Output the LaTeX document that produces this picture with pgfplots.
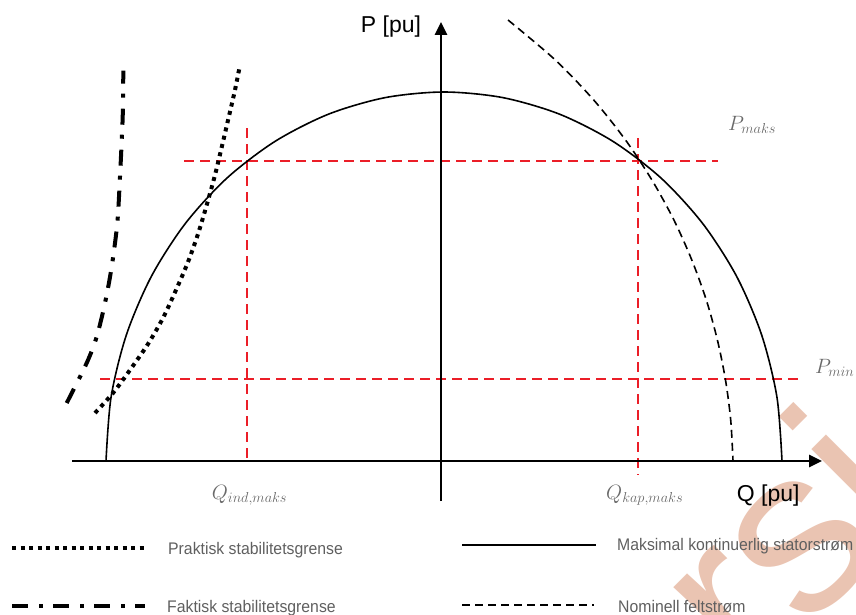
\documentclass[border=0pt]{standalone}
\usepackage{fontspec}
\setmainfont{Liberation Sans}
\usepackage{graphicx}
\usepackage{pgfplots}
\pgfplotsset{compat=1.18}
\usetikzlibrary{arrows.meta}
\definecolor{myred}{RGB}{235,30,40}
\definecolor{labgray}{RGB}{105,105,105}
\definecolor{leggray}{RGB}{95,95,95}
\definecolor{wmark}{RGB}{234,196,178}
\tikzset{
  praktisk/.style={black, line width=4pt, dash pattern=on 4pt off 4.5pt},
  faktisk/.style={black, line width=4pt, dash pattern=on 16pt off 11pt on 4pt off 10pt},
  stator/.style={black, line width=1.6pt},
  felt/.style={black, line width=1.6pt, dash pattern=on 8pt off 5pt},
  reddash/.style={myred, line width=1.8pt, dash pattern=on 10pt off 6pt},
  legtext/.style={anchor=base west, inner sep=0pt, text=leggray, font=\fontsize{16.8}{20}\selectfont},
  mathlab/.style={anchor=base west, inner sep=0pt, text=labgray, font=\fontsize{20}{24}\selectfont},
  axlab/.style={anchor=base west, inner sep=0pt, text=black, font=\fontsize{23}{27}\selectfont},
}
\begin{document}
\begin{tikzpicture}
\begin{axis}[scale only axis, width=856pt, height=615pt,
  xmin=0, xmax=856, ymin=0, ymax=615, y dir=reverse,
  hide axis, clip=false]
% watermark
\node[anchor=base west, rotate=45, text=wmark, inner sep=0pt,
  font=\fontsize{235}{240}\selectfont] at (axis cs:750,687) {rsi};
% red dashed guide lines
\addplot[reddash] coordinates {(184,161) (718,161)};
\addplot[reddash] coordinates {(100,379) (798,379)};
\addplot[reddash] coordinates {(247,128) (247,461)};
\addplot[reddash] coordinates {(638,138) (638,475)};
% maximal stator current (semi-ellipse)
\addplot[stator, smooth] coordinates {
 (782,461) (776.9,396.9) (761.6,334.8) (736.7,276.5) (702.9,223.8)
 (661.3,178.3) (613,141.4) (559.6,114.2) (502.7,97.6) (444,92)
 (385.3,97.6) (328.4,114.2) (275,141.4) (226.7,178.3) (185.1,223.8)
 (151.3,276.5) (126.4,334.8) (111.1,396.9) (106,461)};
% nominal field current
\addplot[felt, smooth] coordinates {
 (508,20) (555.3,60) (593.7,100) (625.5,140) (651.9,180) (673.9,220)
 (691.8,260) (706.3,300) (717.4,340) (725.5,380) (730.7,420) (733,461)};
% practical stability limit
\addplot[praktisk, smooth] coordinates {
 (95,413) (113,393) (130,370) (148,344) (163,318) (176,290) (188,262)
 (198,234) (207,204) (215,175) (222,146) (229,116) (235,90) (240,65)};
% actual stability limit
\addplot[faktisk, smooth] coordinates {
 (66.7,403) (86.7,363) (96.7,336.7) (105,303) (111.7,266.7)
 (117.3,223) (120,176.7) (122.7,116.7) (123.3,70.7)};
% axes
\addplot[black, line width=2.7pt, -{Triangle[length=13pt,width=12pt]}] coordinates {(72,461) (822,461)};
\addplot[black, line width=2.7pt, -{Triangle[length=13pt,width=12pt]}] coordinates {(441,501) (441,22)};
% axis labels
\node[axlab] at (axis cs:360.7,32.3) {P [pu]};
\node[axlab] at (axis cs:736.7,501.7) {Q [pu]};
% math labels
\node[mathlab] at (axis cs:728,130.5) {$P_{maks}$};
\node[mathlab] at (axis cs:815,373) {$P_{min}$};
\node[mathlab] at (axis cs:211.7,499) {$Q_{ind,maks}$};
\node[mathlab] at (axis cs:606,499) {$Q_{kap,maks}$};
% legend samples
\addplot[praktisk] coordinates {(12,548.3) (145,548.3)};
\addplot[faktisk] coordinates {(12,606) (145,606)};
\addplot[black, line width=2pt] coordinates {(462,545) (596,545)};
\addplot[black, line width=2pt, dash pattern=on 8pt off 5pt] coordinates {(462,605) (594,605)};
% legend text
\node[legtext] at (axis cs:168,554) {\scalebox{0.94}[1]{Praktisk stabilitetsgrense}};
\node[legtext] at (axis cs:167,612) {\scalebox{0.94}[1]{Faktisk stabilitetsgrense}};
\node[legtext] at (axis cs:617,550) {\scalebox{0.94}[1]{Maksimal kontinuerlig statorstrøm}};
\node[legtext] at (axis cs:618,612) {\scalebox{0.94}[1]{Nominell feltstrøm}};
\end{axis}
\pgfresetboundingbox
\path[use as bounding box] (current axis.south west) rectangle (current axis.north east);
\end{tikzpicture}
\end{document}
